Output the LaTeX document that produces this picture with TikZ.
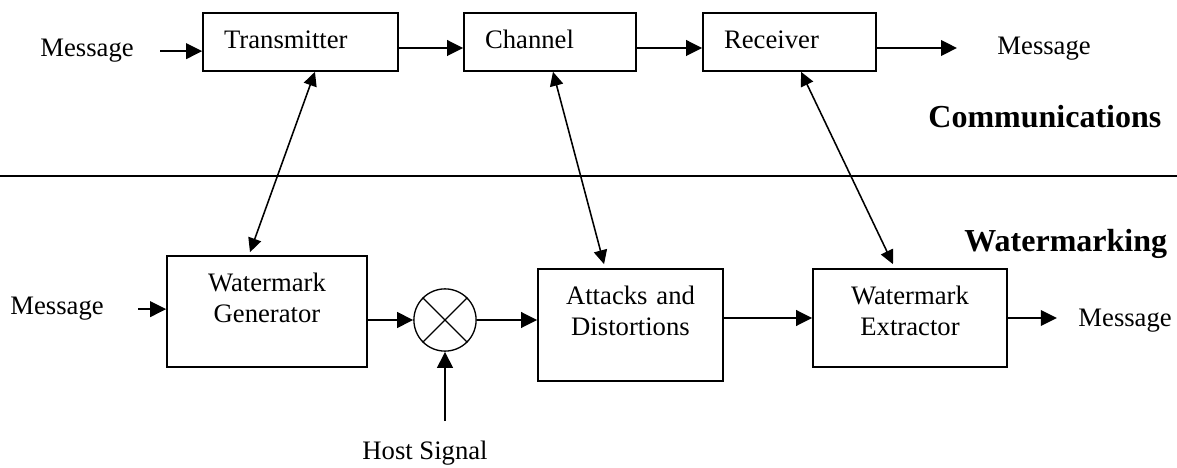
\documentclass[tikz,border=0pt]{standalone}
\usepackage{fontspec}
\setmainfont{Liberation Serif}
\usetikzlibrary{positioning,arrows.meta,shapes}
\tikzset{
    wmdiagram/.style={
        x=0.45pt, y=-0.45pt,
        font=\fontsize{12pt}{13.8pt}\selectfont
    },
    % Stile per i blocchi della catena di comunicazione (testo a sinistra)
    topblock/.style={draw, rectangle, align=left, text width=#1,
                     inner xsep=9.5pt, inner ysep=0pt,
                     text height=16.2pt, text depth=9.9pt,
                     line width=0.75pt},
    % Stile per i blocchi del watermarking (testo in alto, centrato)
    botblock/.style={draw, rectangle, align=center, inner sep=0pt,
                     text height=16.2pt, line width=0.75pt},
    % Stile per il mixer (cerchio con croce)
    mixer/.style={draw, circle, minimum size=28pt, inner sep=0pt,
                  line width=0.6pt},
    % Stile per i testi liberi
    msgtext/.style={inner sep=0pt, anchor=base west},
    sectiontext/.style={inner sep=0pt, anchor=base west,
                        font=\fontsize{14.4pt}{16pt}\selectfont\bfseries},
    % Frecce
    flow/.style={-{Triangle[length=7.2pt,width=7pt]}, line width=0.9pt},
    link/.style={{Triangle[length=6.3pt,width=6pt]}-{Triangle[length=6.3pt,width=6pt]},
                 line width=0.7pt}
}
\begin{document}
\begin{tikzpicture}[wmdiagram]
    \useasboundingbox (0,0) rectangle (1177,468);

    % catena di comunicazione
    \node[msgtext] (msgA) at (40,57) {Message};
    \node[topblock=68.75pt] (tx) at (300.5,42) {Transmitter};
    \node[topblock=58.4pt] (ch) at (550,42) {Channel};
    \node[topblock=58.85pt] (rx) at (789.5,42) {Receiver};
    \node[msgtext] (msgB) at (997,55) {Message};
    \node[sectiontext] (comm) at (928,128) {Communications};

    \draw[flow, shorten <=11.7pt] (msgA.east) -- (msgA.east -| tx.west);
    \draw[flow] ([yshift=-2.7pt]tx.east) -- ([yshift=-2.7pt]ch.west);
    \draw[flow] ([yshift=-2.7pt]ch.east) -- ([yshift=-2.7pt]rx.west);
    \draw[flow, shorten >=18pt] ([yshift=-2.7pt]rx.east) -- ([yshift=-2.7pt]rx.east -| msgB.west);

    \draw[line width=0.7pt] (0,176) -- (1177,176);

    % catena di watermarking
    \node[sectiontext] (wm) at (964,252) {Watermarking};
    \node[msgtext] (msgC) at (10,315) {Message};
    \node[botblock, text width=90pt, text depth=33.75pt] (gen) at (267,311.5) {Watermark\\Generator};
    \node[mixer] (mix) at (445,320) {};
    \draw[line width=0.6pt] (mix.north west) -- (mix.south east)
                            (mix.north east) -- (mix.south west);
    \node[botblock, text width=83.25pt, text depth=34.2pt] (att) at (630.5,325) {Attacks and\\Distortions};
    \node[botblock, text width=87.3pt, text depth=27.9pt] (ext) at (910,318) {Watermark\\Extractor};
    \node[msgtext] (msgD) at (1078,327) {Message};
    \node[msgtext] (host) at (362,459) {Host Signal};

    \draw[flow, shorten <=15.3pt] (msgC.east) -- (msgC.east -| gen.west);
    \draw[flow] (gen.east |- mix.west) -- (mix.west);
    \draw[flow] (mix.east) -- (mix.east -| att.west);
    \draw[flow] (att.east |- ext.west) -- (ext.west);
    \draw[flow, shorten >=9.5pt] (ext.east) -- (ext.east -| msgD.west);
    \draw[flow, shorten <=8.5pt] (host.north -| mix.south) -- (mix.south);

    % legami tra le due catene
    \draw[link] ([xshift=6.5pt]tx.south) -- ([xshift=-7.65pt,yshift=1.35pt]gen.north);
    \draw[link] ([xshift=1.35pt]ch.south) -- ([xshift=-11.9pt,yshift=1.8pt]att.north);
    \draw[link] ([xshift=5.2pt]rx.south) -- ([xshift=-7.65pt,yshift=1.8pt]ext.north);
\end{tikzpicture}
\end{document}
